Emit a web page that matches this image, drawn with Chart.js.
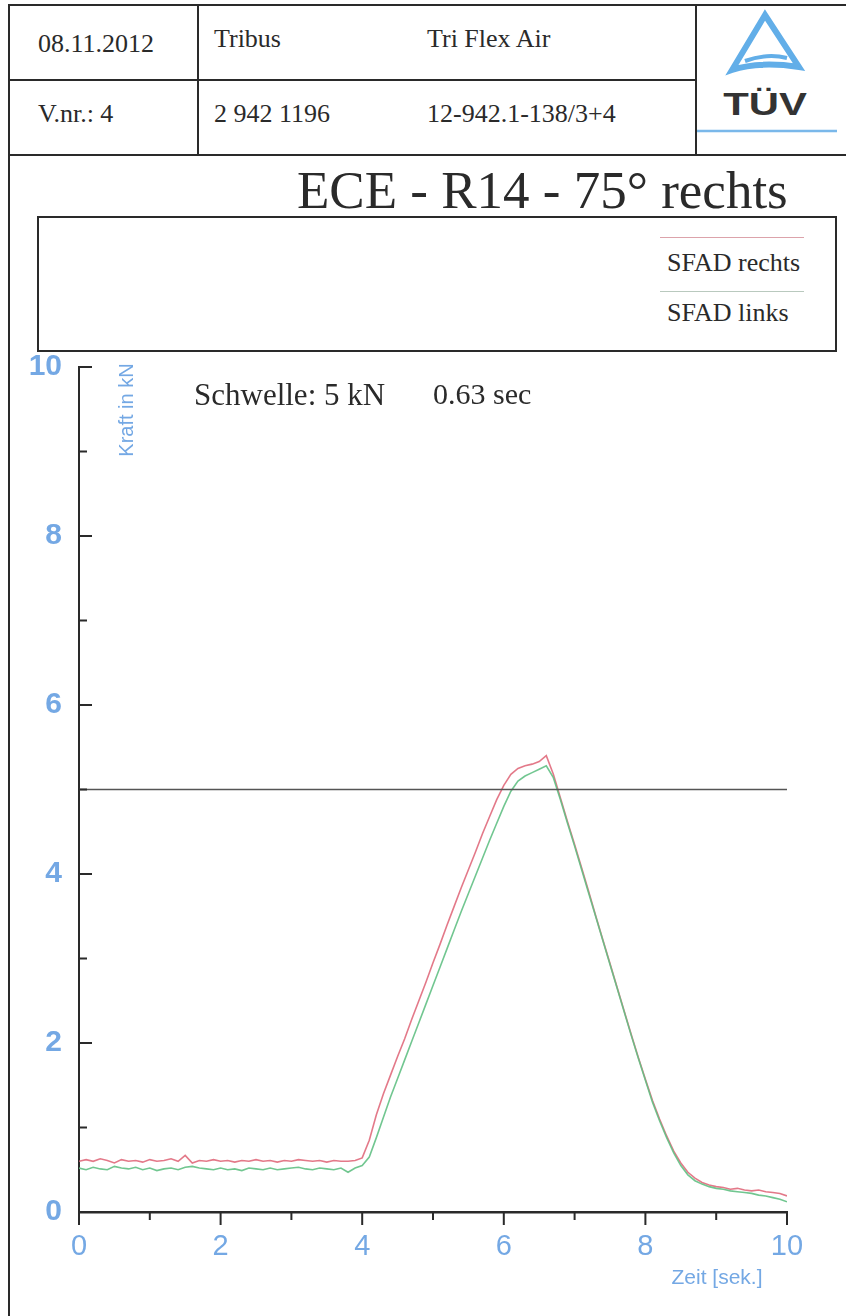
<!DOCTYPE html>
<html>
<head>
<meta charset="utf-8">
<script src="https://cdn.jsdelivr.net/npm/chart.js@4.4.0/dist/chart.umd.min.js"></script>
<style>
  body { margin: 0; background: #fff; }
  #page { position: relative; width: 846px; height: 1316px; overflow: hidden; background: #fff; }
  .ln { position: absolute; background: #2a2a2a; }
  .txt { position: absolute; font-family: "Liberation Serif", "Times New Roman", serif; color: #2a2a2a; white-space: nowrap; line-height: 1; }
  .lbl { position: absolute; font-family: "Liberation Sans", Arial, sans-serif; color: #74a8e4; white-space: nowrap; line-height: 1; }
  #chartBox { position: absolute; left: 0; top: 332px; width: 846px; height: 984px; }
</style>
</head>
<body>
<div id="page">
  <!-- header frame -->
  <div class="ln" style="left:8px;top:4px;width:2px;height:1312px"></div>
  <div class="ln" style="left:8px;top:4px;width:838px;height:2px"></div>
  <div class="ln" style="left:8px;top:79px;width:688px;height:2px"></div>
  <div class="ln" style="left:8px;top:154px;width:838px;height:2px"></div>
  <div class="ln" style="left:197px;top:4px;width:2px;height:151px"></div>
  <div class="ln" style="left:695px;top:4px;width:2px;height:151px"></div>

  <div class="txt" style="left:38px;top:31px;font-size:26px">08.11.2012</div>
  <div class="txt" style="left:214px;top:26px;font-size:26px">Tribus</div>
  <div class="txt" style="left:427px;top:26px;font-size:26px">Tri Flex Air</div>
  <div class="txt" style="left:38px;top:101px;font-size:26px">V.nr.: 4</div>
  <div class="txt" style="left:214px;top:101px;font-size:26px">2 942 1196</div>
  <div class="txt" style="left:427px;top:101px;font-size:26px">12-942.1-138/3+4</div>

  <!-- TÜV logo -->
  <svg style="position:absolute;left:697px;top:6px" width="149" height="148">
    <path d="M68 9 L35 64 Q62 55 102 61 Z" fill="none" stroke="#62aee8" stroke-width="6" stroke-linejoin="miter"/>
    <path d="M48 55 Q70 47 90 52" fill="none" stroke="#62aee8" stroke-width="4"/>
    <line x1="-4" y1="125" x2="140" y2="125" stroke="#7ab8ea" stroke-width="2.5"/>
  </svg>
  <div style="position:absolute;left:722px;top:89px;width:86px;text-align:center;font-family:'Liberation Sans',Arial,sans-serif;font-weight:bold;font-size:31px;color:#333;line-height:1;transform:scaleX(1.35);transform-origin:center">TÜV</div>

  <!-- title -->
  <div class="txt" style="left:297px;top:164px;font-size:53px">ECE - R14 - 75° rechts</div>

  <!-- legend box -->
  <div style="position:absolute;left:37px;top:216px;width:796px;height:132px;border:2px solid #2a2a2a"></div>
  <div style="position:absolute;left:660px;top:237px;width:144px;height:1px;background:#dca3ab"></div>
  <div class="txt" style="left:667px;top:250px;font-size:26px">SFAD rechts</div>
  <div style="position:absolute;left:660px;top:291px;width:144px;height:1px;background:#b9c9be"></div>
  <div class="txt" style="left:667px;top:300px;font-size:26px">SFAD links</div>

  <div id="chartBox"><canvas id="kraftChart"></canvas></div>

  <div class="txt" style="left:194px;top:379px;font-size:31px">Schwelle: 5 kN</div>
  <div class="txt" style="left:433px;top:379px;font-size:30px">0.63 sec</div>

  <div class="lbl" style="left:78px;top:400px;font-size:20px;transform:rotate(-90deg);transform-origin:center;width:96px;text-align:center">Kraft in kN</div>
  <div class="lbl" style="left:671px;top:1266px;font-size:21px;width:92px;text-align:center">Zeit [sek.]</div>
</div>

<script>
// Zeitachse in Sekunden
var zeit = [
  0.0, 0.1, 0.2, 0.3, 0.4, 0.5, 0.6, 0.7, 0.8, 0.9,
  1.0, 1.1, 1.2, 1.3, 1.4, 1.5, 1.6, 1.7, 1.8, 1.9,
  2.0, 2.1, 2.2, 2.3, 2.4, 2.5, 2.6, 2.7, 2.8, 2.9,
  3.0, 3.1, 3.2, 3.3, 3.4, 3.5, 3.6, 3.7, 3.8, 3.9,
  4.0, 4.1, 4.2, 4.3, 4.4, 4.5, 4.6, 4.7, 4.8, 4.9,
  5.0, 5.1, 5.2, 5.3, 5.4, 5.5, 5.6, 5.7, 5.8, 5.9,
  6.0, 6.1, 6.2, 6.3, 6.4, 6.5, 6.6, 6.7, 6.8, 6.9,
  7.0, 7.1, 7.2, 7.3, 7.4, 7.5, 7.6, 7.7, 7.8, 7.9,
  8.0, 8.1, 8.2, 8.3, 8.4, 8.5, 8.6, 8.7, 8.8, 8.9,
  9.0, 9.1, 9.2, 9.3, 9.4, 9.5, 9.6, 9.7, 9.8, 9.9, 10.0
];

// Kraft in kN
var sfadRechts = [
  0.60, 0.62, 0.60, 0.63, 0.61, 0.58, 0.62, 0.60, 0.61, 0.59,
  0.62, 0.60, 0.61, 0.63, 0.60, 0.67, 0.58, 0.61, 0.60, 0.62,
  0.60, 0.61, 0.59, 0.61, 0.60, 0.62, 0.60, 0.61, 0.59, 0.61,
  0.60, 0.62, 0.61, 0.60, 0.61, 0.59, 0.61, 0.60, 0.60, 0.61,
  0.64, 0.85, 1.15, 1.40, 1.62, 1.84, 2.05, 2.28, 2.50, 2.72,
  2.95, 3.17, 3.40, 3.62, 3.84, 4.05, 4.26, 4.48, 4.68, 4.88,
  5.05, 5.18, 5.25, 5.28, 5.30, 5.33, 5.40, 5.18, 4.90, 4.62,
  4.35, 4.07, 3.79, 3.50, 3.22, 2.94, 2.66, 2.38, 2.10, 1.83,
  1.57, 1.32, 1.10, 0.90, 0.72, 0.58, 0.47, 0.40, 0.35, 0.32,
  0.30, 0.29, 0.27, 0.28, 0.26, 0.25, 0.26, 0.24, 0.23, 0.22, 0.19
];

var sfadLinks = [
  0.52, 0.50, 0.53, 0.51, 0.50, 0.54, 0.52, 0.51, 0.53, 0.50,
  0.52, 0.49, 0.51, 0.52, 0.50, 0.53, 0.54, 0.52, 0.51, 0.50,
  0.52, 0.50, 0.51, 0.49, 0.52, 0.51, 0.50, 0.52, 0.50, 0.51,
  0.52, 0.53, 0.51, 0.50, 0.52, 0.51, 0.50, 0.52, 0.47, 0.52,
  0.55, 0.65, 0.88, 1.12, 1.36, 1.58, 1.80, 2.02, 2.24, 2.46,
  2.68, 2.90, 3.12, 3.34, 3.56, 3.77, 3.98, 4.19, 4.40, 4.60,
  4.80, 4.98, 5.10, 5.16, 5.20, 5.24, 5.28, 5.14, 4.88, 4.60,
  4.33, 4.05, 3.77, 3.49, 3.21, 2.93, 2.65, 2.37, 2.09, 1.82,
  1.56, 1.30, 1.08, 0.88, 0.70, 0.55, 0.44, 0.37, 0.33, 0.30,
  0.28, 0.27, 0.25, 0.24, 0.23, 0.22, 0.20, 0.19, 0.17, 0.15, 0.12
];

var schwelleZeit = [0, 10];
var schwelleWert = [5, 5];

var hauptTicks = [0, 2, 4, 6, 8, 10];
var nebenTicks = [1, 3, 5, 7, 9];

var blau = '#74a8e4';

function punkte(xs, ys) {
    return xs.map(function (x, i) { return { x: x, y: ys[i] }; });
}

// kleine Striche an den Achsen (innen an y, aussen an x)
var tickStriche = {
    id: 'tickStriche',
    afterDraw: function (chart) {
        var ctx = chart.ctx;
        var xs = chart.scales.x, ys = chart.scales.y;
        var a = chart.chartArea;
        ctx.save();
        ctx.strokeStyle = '#2a2a2a';
        ctx.lineWidth = 2;
        ctx.beginPath();
        hauptTicks.forEach(function (v) {
            var py = ys.getPixelForValue(v);
            ctx.moveTo(a.left, py); ctx.lineTo(a.left + 13, py);
            var px = xs.getPixelForValue(v);
            ctx.moveTo(px, a.bottom); ctx.lineTo(px, a.bottom + 13);
        });
        nebenTicks.forEach(function (v) {
            var py = ys.getPixelForValue(v);
            ctx.moveTo(a.left, py); ctx.lineTo(a.left + 8, py);
            var px = xs.getPixelForValue(v);
            ctx.moveTo(px, a.bottom); ctx.lineTo(px, a.bottom + 8);
        });
        ctx.stroke();
        ctx.restore();
    }
};

var ctx1 = document.getElementById('kraftChart').getContext('2d');

var kraftChart = new Chart(ctx1, {
    type: 'line',
    data: {
        datasets: [
            {
                label: 'Schwelle',
                data: punkte(schwelleZeit, schwelleWert),
                borderColor: '#555555',
                borderWidth: 1.5,
                pointRadius: 0
            },
            {
                label: 'SFAD links',
                data: punkte(zeit, sfadLinks),
                borderColor: 'rgba(98, 192, 132, 0.9)',
                borderWidth: 1.6,
                pointRadius: 0,
                tension: 0
            },
            {
                label: 'SFAD rechts',
                data: punkte(zeit, sfadRechts),
                borderColor: 'rgba(222, 98, 116, 0.85)',
                borderWidth: 1.6,
                pointRadius: 0,
                tension: 0
            }
        ]
    },
    options: {
        responsive: true,
        maintainAspectRatio: false,
        animation: false,
        layout: { padding: { top: 7, right: 59, left: 0, bottom: 0 } },
        plugins: {
            legend: { display: false },
            tooltip: { enabled: false }
        },
        scales: {
            x: {
                type: 'linear',
                min: 0,
                max: 10,
                afterFit: function (s) { s.height = 104; },
                afterBuildTicks: function (s) { s.ticks = hauptTicks.map(function (v) { return { value: v }; }); },
                grid: { display: false, drawTicks: false },
                border: { display: true, color: '#2a2a2a', width: 2.5 },
                ticks: {
                    padding: 18,
                    color: blau,
                    maxRotation: 0,
                    font: { family: 'Liberation Sans, Arial, sans-serif', size: 29 }
                }
            },
            y: {
                min: 0,
                max: 10,
                afterFit: function (s) { s.width = 79; },
                afterBuildTicks: function (s) { s.ticks = hauptTicks.map(function (v) { return { value: v }; }); },
                grid: { display: false, drawTicks: false },
                border: { display: true, color: '#2a2a2a', width: 2 },
                ticks: {
                    padding: 17,
                    color: blau,
                    font: { family: 'Liberation Sans, Arial, sans-serif', size: 30, weight: 'bold' }
                }
            }
        }
    },
    plugins: [tickStriche]
});
</script>
</body>
</html>
